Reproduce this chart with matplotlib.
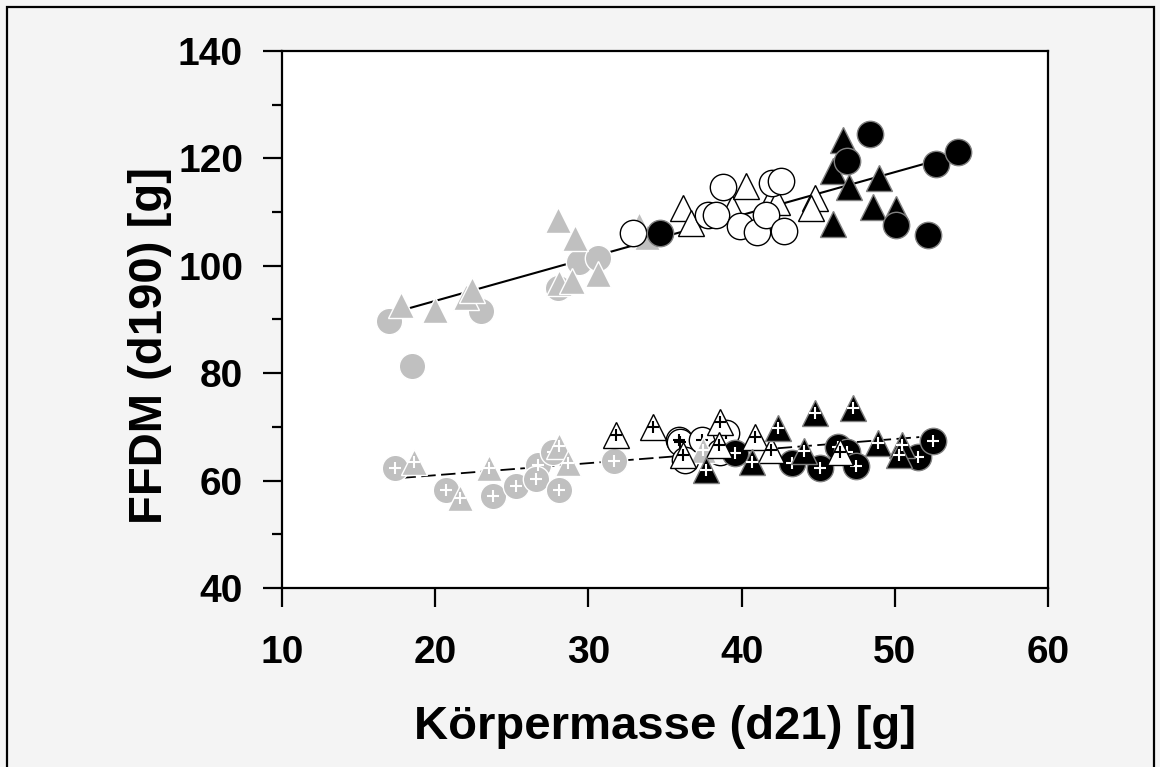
import matplotlib
matplotlib.use('Agg')
import matplotlib.pyplot as plt
from matplotlib.patches import Rectangle
from matplotlib.ticker import MultipleLocator

plt.rcParams['font.family'] = ['Liberation Sans', 'DejaVu Sans']
plt.rcParams['font.weight'] = 'bold'

# upper group: FFDM values, solid regression line
up_gray_circ_x = [17.0, 18.5, 23.0, 28.0, 29.4, 30.6]
up_gray_circ_y = [89.7, 81.3, 91.6, 95.9, 100.7, 101.5]
up_gray_tri_x = [17.8, 20.0, 22.0, 22.4, 28.0, 29.1, 28.1, 28.9, 30.6, 33.3, 33.8]
up_gray_tri_y = [92.7, 91.8, 94.2, 95.5, 108.5, 105.2, 96.8, 97.2, 98.5, 107.6, 105.4]
up_white_circ_x = [32.9, 38.8, 37.8, 38.3, 39.9, 41.0, 41.6, 42.0, 42.6, 42.8]
up_white_circ_y = [106.1, 114.7, 109.5, 109.5, 107.4, 106.3, 109.5, 115.4, 115.8, 106.5]
up_white_tri_x = [36.2, 36.7, 39.4, 40.3, 42.0, 42.3, 44.8, 44.5]
up_white_tri_y = [110.8, 108.0, 110.8, 114.9, 112.8, 111.9, 112.6, 110.8]
up_black_circ_x = [34.7, 48.4, 46.9, 52.7, 54.1, 50.1, 52.2]
up_black_circ_y = [106.1, 124.5, 119.5, 119.0, 121.2, 107.6, 105.7]
up_black_tri_x = [46.6, 46.0, 47.0, 49.0, 48.6, 50.1, 46.0]
up_black_tri_y = [123.4, 117.7, 114.7, 116.4, 111.0, 110.6, 107.8]
up_line_x = [17.8, 52.7]
up_line_y = [91.7, 119.6]

# lower group: marked with +, dashed regression line
lo_gray_circ_x = [17.4, 20.7, 23.8, 25.3, 26.7, 26.6, 27.7, 28.1, 31.7]
lo_gray_circ_y = [62.3, 58.2, 57.1, 59.0, 62.9, 60.3, 65.3, 58.2, 63.6]
lo_gray_tri_x = [18.6, 21.6, 23.5, 28.1, 28.7, 37.5]
lo_gray_tri_y = [63.5, 56.8, 62.3, 66.5, 63.3, 65.7]
lo_white_circ_x = [35.9, 36.0, 36.3, 37.4, 38.6, 39.0]
lo_white_circ_y = [67.6, 67.2, 63.8, 67.6, 65.3, 68.9]
lo_white_tri_x = [31.8, 34.2, 36.2, 38.6, 40.9, 41.9, 38.5, 46.4]
lo_white_tri_y = [68.5, 70.0, 64.8, 70.9, 68.1, 65.7, 66.6, 65.3]
lo_black_circ_x = [39.6, 43.3, 45.1, 46.3, 46.9, 47.5, 51.5, 52.5]
lo_black_circ_y = [65.1, 63.3, 62.3, 66.3, 65.3, 62.7, 64.4, 67.4]
lo_black_tri_x = [37.7, 40.7, 42.4, 44.8, 47.3, 44.1, 48.9, 50.5, 50.3]
lo_black_tri_y = [62.0, 63.5, 69.8, 72.6, 73.5, 65.5, 67.0, 66.6, 64.8]
lo_line_x = [17.8, 51.6]
lo_line_y = [60.5, 68.1]

GRAY = '#c0c0c0'

fig = plt.figure(figsize=(11.6, 7.67), dpi=100, facecolor='#f4f4f4')
ax = fig.add_axes([0.2431, 0.2334, 0.6603, 0.7001])
ax.set_facecolor('white')

# regression lines behind the markers
ax.plot(up_line_x, up_line_y, color='black', lw=1.5, zorder=1)
ax.plot(lo_line_x, lo_line_y, color='black', lw=1.3, dashes=(8, 3), zorder=1)

def marks(x, y, shape, face, edge, z):
    ax.plot(x, y, ls='none', marker=shape, ms=19, mfc=face, mec=edge, mew=1.0, zorder=z)

def plus(x, y, color, z):
    ax.plot(x, y, ls='none', marker='+', ms=8, mew=1.5, color=color, zorder=z)

# upper group
marks(up_gray_circ_x, up_gray_circ_y, 'o', GRAY, 'white', 2)
marks(up_gray_tri_x, up_gray_tri_y, '^', GRAY, 'white', 3)
marks(up_white_tri_x, up_white_tri_y, '^', 'white', 'black', 4)
marks(up_white_circ_x, up_white_circ_y, 'o', 'white', 'black', 5)
marks(up_black_tri_x, up_black_tri_y, '^', 'black', '#808080', 6)
marks(up_black_circ_x, up_black_circ_y, 'o', 'black', '#808080', 7)

# lower group with plus signs
marks(lo_gray_circ_x, lo_gray_circ_y, 'o', GRAY, 'white', 2)
plus(lo_gray_circ_x, lo_gray_circ_y, 'white', 2.1)
marks(lo_white_circ_x, lo_white_circ_y, 'o', 'white', 'black', 3)
plus(lo_white_circ_x, lo_white_circ_y, 'black', 3.1)
marks(lo_black_circ_x, lo_black_circ_y, 'o', 'black', '#808080', 4)
plus(lo_black_circ_x, lo_black_circ_y, 'white', 4.1)
marks(lo_gray_tri_x, lo_gray_tri_y, '^', GRAY, 'white', 5)
plus(lo_gray_tri_x, lo_gray_tri_y, 'white', 5.1)
marks(lo_white_tri_x, lo_white_tri_y, '^', 'white', 'black', 6)
plus(lo_white_tri_x, lo_white_tri_y, 'black', 6.1)
marks(lo_black_tri_x, lo_black_tri_y, '^', 'black', '#808080', 7)
plus(lo_black_tri_x, lo_black_tri_y, 'white', 7.1)

ax.set_xlim(10, 60)
ax.set_ylim(40, 140)
ax.xaxis.set_major_locator(MultipleLocator(10))
ax.yaxis.set_major_locator(MultipleLocator(20))
ax.yaxis.set_minor_locator(MultipleLocator(10))
for s in ax.spines.values():
    s.set_linewidth(1.6)
ax.tick_params(which='major', direction='out', length=14, width=1.6, labelsize=28, pad=14)
ax.tick_params(axis='x', which='major', pad=20)
ax.tick_params(which='minor', direction='out', length=7, width=1.6)
ax.tick_params(top=False, right=False)

# axis titles placed in figure coordinates
fig.text(665 / 1160, 1 - 727 / 767, 'Körpermasse (d21) [g]', fontsize=34,
         fontweight='bold', ha='center', va='center')
fig.text(150 / 1160, 1 - 345 / 767, 'FFDM (d190) [g]', fontsize=34,
         fontweight='bold', ha='center', va='center', rotation=90)

# outer frame of the figure
fig.patches.append(Rectangle((0.006, -0.05), 0.989, 1.041, transform=fig.transFigure,
                             fill=False, edgecolor='black', lw=1.6))

fig.savefig('out.png', dpi=100, facecolor=fig.get_facecolor())
